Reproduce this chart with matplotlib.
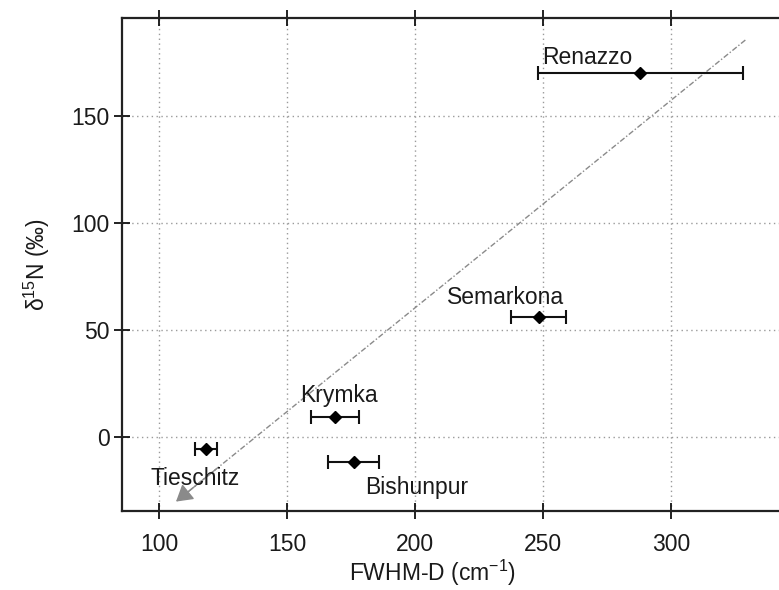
import matplotlib
matplotlib.use("Agg")
import matplotlib.pyplot as plt

plt.rcParams["font.family"] = ["Liberation Sans", "DejaVu Sans"]
plt.rcParams["mathtext.fontset"] = "custom"
plt.rcParams["mathtext.rm"] = "Liberation Sans"
plt.rcParams["mathtext.it"] = "Liberation Sans:italic"

# meteorite samples: Raman D-band width vs nitrogen isotope ratio
names = ["Tieschitz", "Krymka", "Bishunpur", "Semarkona", "Renazzo"]
fwhm_d = [118.5, 168.8, 176.0, 248.2, 288.0]
fwhm_err = [4.3, 9.3, 10.0, 10.8, 40.0]
d15n = [-5.7, 9.5, -11.5, 56.2, 170.2]

# trend line drawn towards Tieschitz
trend_x = [329.0, 106.6]
trend_y = [185.5, -30.2]

label_offsets = {
    "Tieschitz": (-40, -21),
    "Krymka": (-25, 15),
    "Bishunpur": (8, -19),
    "Semarkona": (-66, 14),
    "Renazzo": (-71, 11),
}

text_col = "#1a1a1a"
fs = 16.5

fig = plt.figure(figsize=(7.79, 5.90), dpi=100)
ax = fig.add_axes([0.1566, 0.1339, 0.86, 0.8356])
ax.set_xlim(85.5, 85.5 + 0.86 * 779 / 2.56)
ax.set_ylim(-34.6, 195.8)

ax.grid(True, color="#9a9a9a", linestyle=(0, (1, 2.5)), linewidth=1.0)
ax.set_axisbelow(True)

# dashed trend with a grey head at the low end
ax.plot(trend_x, trend_y, color="#8a8a8a", linestyle=(0, (4, 1.5, 1, 1.5)),
        linewidth=1.0, zorder=2)
ax.annotate("", xy=(trend_x[1], trend_y[1]),
            xytext=(trend_x[1] + 0.07 * (trend_x[0] - trend_x[1]),
                    trend_y[1] + 0.07 * (trend_y[0] - trend_y[1])),
            arrowprops=dict(arrowstyle="-|>,head_length=1.0,head_width=0.6",
                            color="#8a8a8a", linewidth=1.0,
                            shrinkA=0, shrinkB=0),
            zorder=2)

ax.errorbar(fwhm_d, d15n, xerr=fwhm_err, fmt="D", color="black",
            markersize=6.5, ecolor="#111111", elinewidth=1.5, capsize=5,
            capthick=1.5, zorder=3)

for name, x, y in zip(names, fwhm_d, d15n):
    dx, dy = label_offsets[name]
    ax.annotate(name, (x, y), xytext=(dx, dy), textcoords="offset points",
                ha="left", va="center", fontsize=fs, color=text_col)

ax.set_xticks([100, 150, 200, 250, 300])
ax.set_yticks([0, 50, 100, 150])
ax.tick_params(direction="inout", length=12, width=1.3, colors="#111111",
               labelcolor=text_col, labelsize=fs, top=True, labeltop=False)
ax.tick_params(axis="x", pad=10)
ax.tick_params(axis="y", pad=3)

for side in ["left", "bottom", "top"]:
    ax.spines[side].set_linewidth(1.6)
    ax.spines[side].set_color("#222222")
ax.spines["right"].set_visible(False)

ax.set_xlabel("FWHM-D (cm$^{-1}$)", fontsize=fs, color=text_col)
ax.xaxis.set_label_coords((433 - 122) / (0.86 * 779), -0.095)
ax.set_ylabel("δ$^{15}$N (‰)", fontsize=fs, color=text_col)
ax.yaxis.set_label_coords(-(122 - 52) / (0.86 * 779), 0.5)

fig.savefig("out.png", dpi=100)
